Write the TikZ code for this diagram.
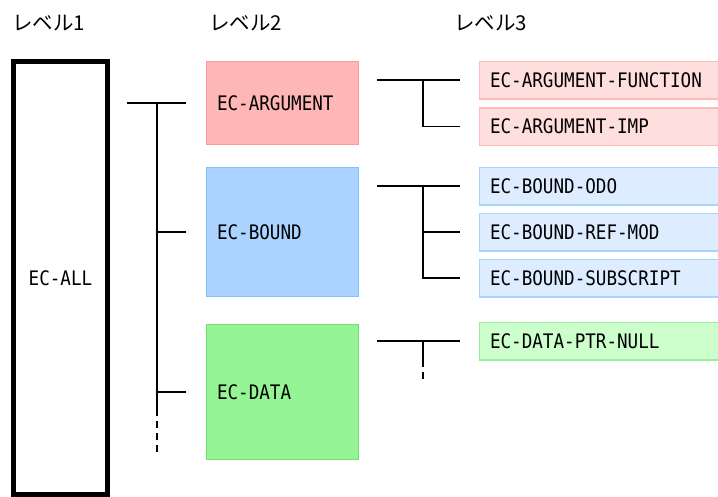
\documentclass[tikz,border=0pt]{standalone}
\usepackage{fontspec}
\newfontfamily\jpfont{Noto Sans CJK JP}
\newfontfamily\monofont[FakeStretch=0.88]{DejaVu Sans Mono}
\newcommand{\lblfont}{\monofont\fontsize{20}{22}\selectfont}
\definecolor{argfill}{HTML}{FFB6B6}
\definecolor{argline}{HTML}{FF9A9A}
\definecolor{bndfill}{HTML}{AAD4FF}
\definecolor{bndline}{HTML}{84C0FF}
\definecolor{datfill}{HTML}{95F595}
\definecolor{datline}{HTML}{70E070}
\definecolor{argfillL}{HTML}{FFDEDE}
\definecolor{arglineL}{HTML}{FFBCBC}
\definecolor{bndfillL}{HTML}{DDEDFF}
\definecolor{bndlineL}{HTML}{A8D2FF}
\definecolor{datfillL}{HTML}{CCFFCC}
\definecolor{datlineL}{HTML}{99EE99}
\begin{document}
\begin{tikzpicture}[x=1pt,y=-1pt,
  hdr/.style={font=\jpfont\fontsize{20.5}{22}\selectfont, anchor=west, inner sep=0pt},
  lvone/.style={draw, line width=5pt, minimum width=94pt, minimum height=433pt, inner sep=0pt, font=\lblfont},
  lvtwo/.style={draw, line width=1.5pt, text width=131pt, inner xsep=10.5pt, inner ysep=0pt, align=left, font=\lblfont},
  lvthree/.style={draw, line width=1.5pt, text width=239pt, inner xsep=10.5pt, inner ysep=0pt, minimum height=37.5pt, align=left, font=\lblfont},
  conn/.style={line width=1.3pt},
  dconn/.style={line width=1.3pt, dash pattern=on 7pt off 5pt, dash phase=7pt}
]
\path[use as bounding box, clip] (0,0) rectangle (718,496);

% headers
\node[hdr] (h1) at (12,23) {レベル1};
\node[hdr] (h2) at (209,23) {レベル2};
\node[hdr] (h3) at (454,23) {レベル3};

% level 1
\node[lvone] (all) at (60.5,278) {EC-ALL};

% level 2
\node[lvtwo, fill=argfill, draw=argline, minimum height=83pt] (arg) at (282.5,103) {EC-ARGUMENT};
\node[lvtwo, fill=bndfill, draw=bndline, minimum height=129pt] (bound) at (282.5,232) {EC-BOUND};
\node[lvtwo, fill=datfill, draw=datline, minimum height=135pt] (data) at (282.5,392) {EC-DATA};

% level 3
\node[lvthree, fill=argfillL, draw=arglineL] (af) at (609.5,80) {EC-ARGUMENT-FUNCTION};
\node[lvthree, fill=argfillL, draw=arglineL] (ai) at (609.5,126.5) {EC-ARGUMENT-IMP};
\node[lvthree, fill=bndfillL, draw=bndlineL] (bo) at (609.5,186) {EC-BOUND-ODO};
\node[lvthree, fill=bndfillL, draw=bndlineL] (br) at (609.5,232) {EC-BOUND-REF-MOD};
\node[lvthree, fill=bndfillL, draw=bndlineL] (bs) at (609.5,278) {EC-BOUND-SUBSCRIPT};
\node[lvthree, fill=datfillL, draw=datlineL] (dp) at (609.5,341) {EC-DATA-PTR-NULL};

% level 1 -> level 2 tree
\coordinate (r1) at (127,103);
\coordinate (j1) at (157,103);
\coordinate (e1) at (157,416);
\coordinate (f1) at (157,452);
\draw[conn] (r1) -- ([xshift=-19.5pt]arg.west);
\draw[conn] (j1) -- (e1);
\draw[dconn] (e1) -- (f1);
\draw[conn] (j1 |- bound.west) -- ([xshift=-19.5pt]bound.west);
\draw[conn] (j1 |- data.west) -- ([xshift=-19.5pt]data.west);

% argument tree
\coordinate (r2) at (377,80);
\coordinate (j2) at (423,80);
\draw[conn] (r2) -- ([xshift=-19pt]af.west);
\draw[conn] (j2) |- ([xshift=-19pt]ai.west);

% bound tree
\coordinate (r3) at (377,186);
\coordinate (j3) at (423,186);
\draw[conn] (r3) -- ([xshift=-19pt]bo.west);
\draw[conn] (j3) |- ([xshift=-19pt]bs.west);
\draw[conn] (j3 |- br.west) -- ([xshift=-19pt]br.west);

% data tree
\coordinate (r4) at (377,341);
\coordinate (j4) at (423,341);
\coordinate (e4) at (423,367);
\coordinate (f4) at (423,379);
\draw[conn] (r4) -- ([xshift=-19pt]dp.west);
\draw[conn] (j4) -- (e4);
\draw[dconn] (e4) -- (f4);
\end{tikzpicture}
\end{document}
